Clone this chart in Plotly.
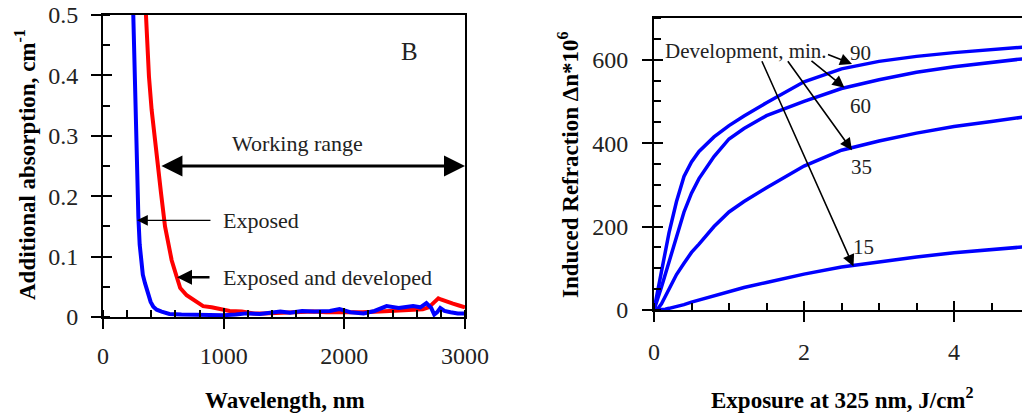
import plotly.graph_objects as go

# ---- Panel B: additional absorption spectra ----
wl_exposed = [251, 260, 271, 282, 293, 304, 315, 330, 348, 362, 376, 395, 417, 445, 486,
              550, 650, 800, 1000, 1100, 1190, 1300, 1400, 1470, 1550, 1650, 1750, 1880,
              1960, 2050, 2160, 2250, 2350, 2450, 2570, 2630, 2680, 2720, 2745, 2770, 2795,
              2830, 2880, 2940, 3000]
abs_exposed = [0.50, 0.42, 0.343, 0.26, 0.166, 0.12, 0.089, 0.07, 0.056, 0.045, 0.034, 0.025,
               0.017, 0.012, 0.009, 0.005, 0.004, 0.003, 0.003, 0.004, 0.006, 0.005, 0.008,
               0.009, 0.007, 0.010, 0.009, 0.010, 0.013, 0.008, 0.006, 0.010, 0.018, 0.015,
               0.018, 0.016, 0.023, 0.015, 0.004, 0.008, 0.015, 0.010, 0.008, 0.006, 0.006]

wl_developed = [356, 367, 381, 403, 431, 459, 481, 514, 569, 610, 640, 693, 740, 790, 830,
                900, 960, 1050, 1150, 1250, 1330, 1420, 1550, 1650, 1743, 1850, 1950, 2020,
                2150, 2296, 2400, 2500, 2572, 2650, 2700, 2737, 2760, 2779, 2800, 2848, 2900,
                2950, 3000]
abs_developed = [0.50, 0.453, 0.398, 0.343, 0.288, 0.249, 0.205, 0.150, 0.094, 0.067, 0.048,
                 0.036, 0.030, 0.023, 0.018, 0.016, 0.014, 0.010, 0.009, 0.006, 0.006, 0.007,
                 0.008, 0.008, 0.009, 0.008, 0.008, 0.007, 0.008, 0.009, 0.010, 0.011, 0.013,
                 0.013, 0.016, 0.023, 0.028, 0.031, 0.029, 0.025, 0.022, 0.019, 0.016]

wl_ticks = [0, 1000, 2000, 3000]
abs_ticks = [0, 0.1, 0.2, 0.3, 0.4, 0.5]
abs_ticktext = ["0", "0.1", "0.2", "0.3", "0.4", "0.5"]

# ---- Induced refraction vs exposure ----
exposure = [0, 0.05, 0.1, 0.15, 0.2, 0.3, 0.4, 0.5, 0.6, 0.8, 1.0, 1.2, 1.5, 2.0, 2.5,
            3.0, 3.5, 4.0, 4.5, 4.91]
dn_90 = [0, 45, 90, 140, 185, 260, 320, 355, 380, 415, 442, 465, 497, 547, 578,
         596, 608, 617, 625, 630]
dn_60 = [0, 25, 55, 85, 115, 175, 235, 280, 315, 368, 410, 435, 466, 500, 531,
         552, 570, 583, 594, 602]
dn_35 = [0, 3, 15, 32, 52, 85, 112, 138, 158, 200, 235, 260, 293, 345, 383,
         405, 424, 440, 452, 462]
dn_15 = [0, 0, 1, 2, 4, 8, 13, 19, 24, 34, 45, 54, 66, 86, 103,
         116, 127, 137, 145, 151]
dev_labels = ["90", "60", "35", "15"]
exp_ticks = [0, 2, 4]
dn_ticks = [0, 200, 400, 600]

FONT = "Liberation Serif, Times New Roman, serif"
TXT = "#222222"

fig = go.Figure()

fig.add_trace(go.Scatter(x=wl_developed, y=abs_developed, mode="lines",
                         line=dict(color="#ff0000", width=4), xaxis="x", yaxis="y"))
fig.add_trace(go.Scatter(x=wl_exposed, y=abs_exposed, mode="lines",
                         line=dict(color="#0000ff", width=4), xaxis="x", yaxis="y"))

for series in (dn_90, dn_60, dn_35, dn_15):
    fig.add_trace(go.Scatter(x=exposure, y=series, mode="lines",
                             line=dict(color="#0000ff", width=3.5), xaxis="x2", yaxis="y2"))

# empty traces that carry the inner halves of the major ticks
for xa, ya in (("x3", "y"), ("x", "y3"), ("x4", "y2"), ("x2", "y4")):
    fig.add_trace(go.Scatter(x=[], y=[], xaxis=xa, yaxis=ya, hoverinfo="skip"))

tickfont = dict(family=FONT, size=24, color=TXT)

def main_axis(rng, dom, anchor, tickvals, dtick_minor, standoff, mirror, ticktext=None):
    d = dict(range=rng, domain=dom, anchor=anchor, tickmode="array", tickvals=tickvals,
             ticks="outside", ticklen=10, tickwidth=2, tickcolor="black",
             showline=True, linecolor="black", linewidth=2, mirror=mirror,
             showgrid=False, zeroline=False, tickfont=tickfont,
             ticklabelstandoff=standoff, automargin=False,
             minor=dict(ticks="inside", ticklen=7, tickwidth=2, tickcolor="black",
                        dtick=dtick_minor, tick0=0, showgrid=False))
    if ticktext:
        d["ticktext"] = ticktext
    return d

def inner_ticks(rng, overlay, tickvals, side):
    return dict(range=rng, overlaying=overlay, side=side, tickmode="array",
                tickvals=tickvals, ticks="inside", ticklen=9, tickwidth=2,
                tickcolor="black", showticklabels=False, showline=False,
                showgrid=False, zeroline=False)

L_X = [103 / 1022, 465 / 1022]
L_Y = [(414 - 317) / 414, (414 - 15) / 414]
R_X = [654 / 1022, 1.0]
R_Y = [(414 - 310) / 414, (414 - 18) / 414]
R_XMAX = (1022 - 654) / 75

fig.update_layout(
    width=1022, height=414,
    margin=dict(l=0, r=0, t=0, b=0),
    paper_bgcolor="white", plot_bgcolor="white",
    font=dict(family=FONT, color=TXT),
    showlegend=False,
    xaxis=main_axis([0, 3000], L_X, "y", wl_ticks, 200, 6, True),
    yaxis=main_axis([0, 0.5], L_Y, "x", abs_ticks, 0.05, 8, True, abs_ticktext),
    xaxis2=main_axis([0, R_XMAX], R_X, "y2", exp_ticks, 0.5, 9, True),
    yaxis2=main_axis([0, 700], R_Y, "x2", dn_ticks, 50, 9, False),
    xaxis3=inner_ticks([0, 3000], "x", wl_ticks, "bottom") | dict(anchor="y"),
    yaxis3=inner_ticks([0, 0.5], "y", abs_ticks, "left") | dict(anchor="x"),
    xaxis4=inner_ticks([0, R_XMAX], "x2", exp_ticks, "bottom") | dict(anchor="y2"),
    yaxis4=inner_ticks([0, 700], "y2", dn_ticks, "left") | dict(anchor="x2"),
)

title_font = dict(family=FONT, size=23, color="black")
txt_font = dict(family=FONT, size=22, color=TXT)
ann = []

# axis titles
ann.append(dict(text="<b>Wavelength, nm</b>", xref="paper", yref="paper",
                x=285 / 1022, y=(414 - 400) / 414, showarrow=False, font=title_font,
                xanchor="center", yanchor="middle"))
ann.append(dict(text="<b>Additional absorption, cm<sup>-1</sup></b>", xref="paper", yref="paper",
                x=25 / 1022, y=(414 - 165) / 414, showarrow=False, font=title_font,
                textangle=-90, xanchor="center", yanchor="middle"))
ann.append(dict(text="<b>Exposure at 325 nm, J/cm<sup>2</sup></b>", xref="paper", yref="paper",
                x=842 / 1022, y=(414 - 398) / 414, showarrow=False, font=title_font,
                xanchor="center", yanchor="middle"))
ann.append(dict(text="<b>Induced Refraction \u0394n*10<sup>6</sup></b>", xref="paper", yref="paper",
                x=568 / 1022, y=(414 - 165) / 414, showarrow=False, font=title_font,
                textangle=-90, xanchor="center", yanchor="middle"))

# panel B labels
ann.append(dict(text="B", xref="x", yref="y", x=2540, y=0.44, showarrow=False,
                font=dict(family=FONT, size=25, color=TXT)))
ann.append(dict(text="Working range", xref="x", yref="y", x=1615, y=0.287, showarrow=False,
                font=txt_font))
ann.append(dict(text="", xref="x", yref="y", axref="x", ayref="y",
                x=3000, y=0.25, ax=472, ay=0.25, showarrow=True,
                arrowhead=2, arrowside="end+start", startarrowhead=2,
                arrowsize=1.4, startarrowsize=1.4, arrowwidth=3, arrowcolor="black",
                standoff=0, startstandoff=0))
ann.append(dict(text="Exposed", xref="x", yref="y", x=978, y=0.16, showarrow=False,
                font=txt_font, xanchor="left"))
ann.append(dict(text="", xref="x", yref="y", axref="x", ayref="y",
                x=282, y=0.16, ax=903, ay=0.16, showarrow=True, arrowhead=2,
                arrowsize=1.8, arrowwidth=1.2, arrowcolor="black", standoff=0))
ann.append(dict(text="Exposed and developed", xref="x", yref="y", x=978, y=0.066,
                showarrow=False, font=txt_font, xanchor="left"))
ann.append(dict(text="", xref="x", yref="y", axref="x", ayref="y",
                x=613, y=0.066, ax=895, ay=0.066, showarrow=True, arrowhead=2,
                arrowsize=1.2, arrowwidth=2.5, arrowcolor="black", standoff=0))

# development-time labels
ann.append(dict(text="Development, min.", xref="x2", yref="y2", x=0.12, y=622,
                showarrow=False, font=dict(family=FONT, size=21, color=TXT), xanchor="left"))
label_pos = [(2.75, 615), (2.75, 490), (2.77, 342), (2.79, 151)]
for lab, (lx, ly) in zip(dev_labels, label_pos):
    ann.append(dict(text=lab, xref="x2", yref="y2", x=lx, y=ly, showarrow=False,
                    font=dict(family=FONT, size=21, color=TXT)))
arrow_tails = [(2.30, 614), (2.08, 600), (1.77, 600), (1.43, 600)]
arrow_heads = [(2.64, 590), (2.54, 533), (2.64, 383), (2.66, 104)]
for (tx, ty), (hx, hy) in zip(arrow_tails, arrow_heads):
    ann.append(dict(text="", xref="x2", yref="y2", axref="x2", ayref="y2",
                    x=hx, y=hy, ax=tx, ay=ty, showarrow=True, arrowhead=2,
                    arrowsize=1.5, arrowwidth=1.6, arrowcolor="black", standoff=0))

fig.update_layout(annotations=ann)

fig.write_html("out.html")
